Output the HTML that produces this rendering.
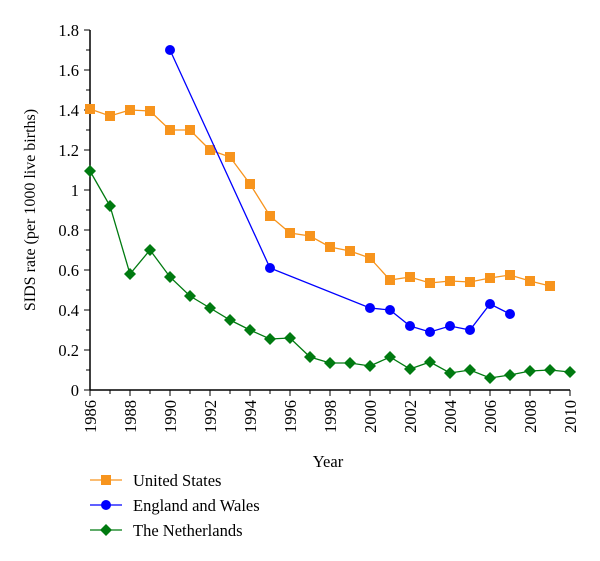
<!DOCTYPE html>
<html><head><meta charset="utf-8"><style>
body{margin:0;background:#fff;}
svg{display:block;font-family:"Liberation Serif",serif;}
</style></head><body>
<svg id="c" width="600" height="561"></svg>
<script>
const usYears=[1986,1987,1988,1989,1990,1991,1992,1993,1994,1995,1996,1997,1998,1999,2000,2001,2002,2003,2004,2005,2006,2007,2008,2009];
const usValues=[1.405,1.37,1.40,1.395,1.30,1.30,1.20,1.165,1.03,0.87,0.785,0.77,0.715,0.695,0.66,0.55,0.565,0.535,0.545,0.54,0.56,0.575,0.545,0.52];
const ewYears=[1990,1995,2000,2001,2002,2003,2004,2005,2006,2007];
const ewValues=[1.70,0.61,0.41,0.40,0.32,0.29,0.32,0.30,0.43,0.38];
const nlYears=[1986,1987,1988,1989,1990,1991,1992,1993,1994,1995,1996,1997,1998,1999,2000,2001,2002,2003,2004,2005,2006,2007,2008,2009,2010];
const nlValues=[1.095,0.92,0.58,0.70,0.565,0.47,0.41,0.35,0.30,0.255,0.26,0.165,0.135,0.135,0.12,0.165,0.105,0.14,0.085,0.10,0.06,0.075,0.095,0.10,0.09];
const xTicks=[1986,1988,1990,1992,1994,1996,1998,2000,2002,2004,2006,2008,2010];
const yTicks=[0,0.2,0.4,0.6,0.8,1,1.2,1.4,1.6,1.8];

const NS="http://www.w3.org/2000/svg";
const svg=document.getElementById('c');
const X=y=>90+(y-1986)*20;
const Y=v=>390-v*200;
function el(t,a,p){const e=document.createElementNS(NS,t);for(const k in a)e.setAttribute(k,a[k]);(p||svg).appendChild(e);return e;}

const ax=el('g',{});


el('line',{x1:90,y1:390,x2:570,y2:390,stroke:'#000','stroke-width':1.5},ax);
el('line',{x1:90,y1:390,x2:90,y2:30,stroke:'#000','stroke-width':1.5},ax);
for(let yr=1986;yr<=2010;yr++){
  const major=(yr%2===0);
  el('line',{x1:X(yr),y1:390,x2:X(yr),y2:major?396:394,stroke:'#000','stroke-width':1},ax);
}
for(let i=0;i<=18;i++){
  const major=(i%2===0);
  el('line',{x1:major?84:86,y1:Y(i*0.1),x2:90,y2:Y(i*0.1),stroke:'#000','stroke-width':1},ax);
}
xTicks.forEach(t=>{
  const tx=el('text',{x:0,y:0,'font-size':16.5,'text-anchor':'end',transform:`translate(${X(t)+6},400) rotate(-90)`},ax);
  tx.textContent=t;
  
  
});
yTicks.forEach(t=>{
  const tx=el('text',{x:79,y:Y(t)+6,'font-size':16.5,'text-anchor':'end'},ax);
  tx.textContent=String(t);
  
  
});
const yt=el('text',{x:0,y:0,'font-size':16,'text-anchor':'middle',transform:'translate(35,210) rotate(-90)'});
yt.textContent='SIDS rate (per 1000 live births)';


const xt=el('text',{x:328,y:467,'font-size':16.5,'text-anchor':'middle'});
xt.textContent='Year';



function marker(type,cx,cy,color,g){
  if(type==='sq') return el('rect',{x:cx-5,y:cy-5,width:10,height:10,fill:color},g);
  if(type==='ci') return el('circle',{cx:cx,cy:cy,r:5,fill:color},g);
  return el('polygon',{points:`${cx},${cy-6} ${cx+6},${cy} ${cx},${cy+6} ${cx-6},${cy}`,fill:color},g);
}
function series(name,years,vals,color,type){
  const g=el('g',{});
  
  
  const pl=el('polyline',{points:years.map((yr,i)=>X(yr)+','+Y(vals[i])).join(' '),fill:'none',stroke:color,'stroke-width':1.3},g);
  
  
  years.forEach((yr,i)=>{
    const m=marker(type,X(yr),Y(vals[i]),color,g);
    
    
  });
}
series('united-states',usYears,usValues,'#f7941d','sq');
series('england-and-wales',ewYears,ewValues,'#0000ff','ci');
series('the-netherlands',nlYears,nlValues,'#007a10','di');

const legend=[['United States','#f7941d','sq'],['England and Wales','#0000ff','ci'],['The Netherlands','#007a10','di']];
legend.forEach((l,i)=>{
  const y=480+i*25;
  const g=el('g',{});
  
  
  el('line',{x1:90,y1:y,x2:122,y2:y,stroke:l[1],'stroke-width':1.3},g);
  marker(l[2],106,y,l[1],g);
  const t=el('text',{x:133,y:y+6,'font-size':16.5},g);
  t.textContent=l[0];
});
</script>
</body></html>
